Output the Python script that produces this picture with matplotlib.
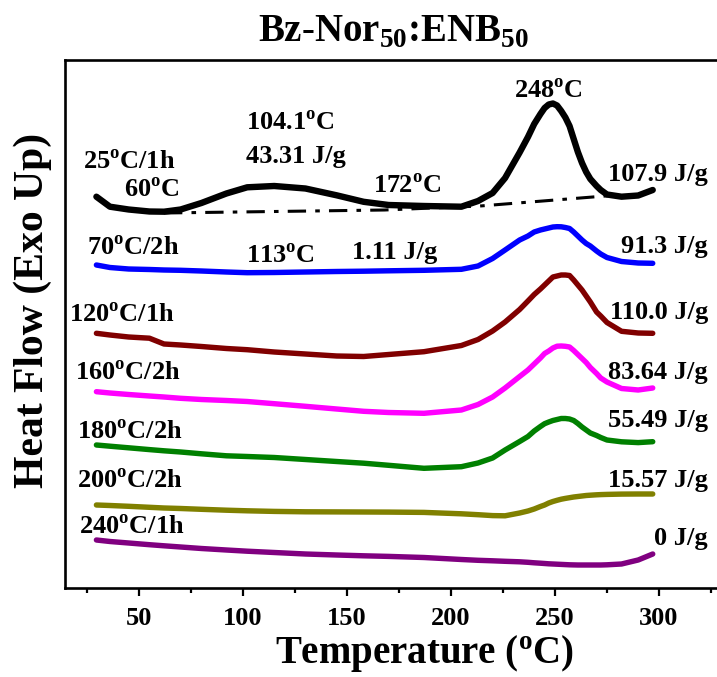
import numpy as np
import matplotlib
matplotlib.use('Agg')
import matplotlib.pyplot as plt
from matplotlib.ticker import MultipleLocator

plt.rcParams['font.family'] = 'Liberation Serif'
plt.rcParams['font.weight'] = 'bold'
plt.rcParams['mathtext.fontset'] = 'custom'
plt.rcParams['mathtext.rm'] = 'Liberation Serif:bold'
plt.rcParams['mathtext.bf'] = 'Liberation Serif:bold'

# temperature grid (deg C) shared by all DSC scans
temp = [29.5, 36, 45, 55, 62, 70, 80, 92, 102, 115, 130, 145, 158, 170, 187, 205,
        213, 220, 226, 233, 237, 240, 243, 245, 247, 249, 251, 253, 255, 257, 259,
        261, 263, 265, 267, 270, 272, 275, 282, 290, 297]

# heat flow, exo up (a.u., curves already stacked)
hf_25 = [391.3, 381.3, 378.5, 376.5, 376.3, 378.5, 385, 394.5, 400.7, 402, 399.5, 392.7,
         386.2, 383, 382, 381.3, 387, 395, 410, 435.5, 451, 464, 474, 480, 483.5, 484.5,
         482.5, 477, 470.5, 462, 449, 436, 425, 416, 409, 402, 398, 393.5, 391.3, 392.5, 398]
hf_70 = [323, 320.5, 319, 318.5, 318, 317.7, 317, 316, 315.3, 315.5, 316, 316.5,
         316.8, 317.2, 317.7, 318.7, 322, 329.5, 338, 348, 352, 356, 358, 359, 360, 361,
         361.3, 361.2, 360.5, 359.5, 356, 352, 348, 344.5, 342, 337, 334, 330.5, 326.5, 325, 324.7]
hf_120 = [254.7, 253, 251, 249.8, 244, 243, 241.5, 239.5, 238.3, 236, 234, 232,
          231.5, 233.5, 236.3, 242.5, 248.5, 257, 266, 278.5, 287, 293.5, 299, 303, 307, 311,
          312, 313, 313, 312.5, 308, 303, 298, 292, 286, 276, 272, 265.5, 256.7, 255, 254.7]
hf_160 = [196.3, 195, 193.5, 192, 191, 189.7, 188.5, 187.5, 186.5, 184.3, 181.7, 179,
          176.7, 175.5, 174.7, 178, 183.5, 191, 200, 211.5, 218, 224, 230, 234.5, 237, 240,
          241.8, 242, 241.7, 241, 237.5, 233.5, 229.5, 225.5, 220.5, 214.5, 210, 206, 199.5, 198, 200]
hf_180 = [143, 141.8, 140.2, 138.4, 137.2, 136, 134.2, 132.2, 131.5, 130.5, 128.5, 126.5,
          124.8, 122.7, 119.7, 121.3, 125, 130, 138, 146.5, 151.5, 157, 161.5, 164.3, 166, 167.5,
          168.5, 169.5, 169.5, 169, 167.5, 164.5, 161, 158, 155, 152.5, 150.5, 148, 146.2, 145.4, 146.3]
hf_200 = [83, 82.5, 81.7, 80.7, 80, 79.5, 78.7, 77.8, 77.2, 76.6, 76.2, 76.1,
          76, 75.9, 75.6, 74.2, 73.3, 72.4, 72.2, 75, 77, 79, 81.5, 83, 85, 86.5,
          87.7, 88.8, 89.6, 90.3, 91, 91.5, 92, 92.5, 92.8, 93.2, 93.4, 93.6, 93.9, 94, 94]
hf_240 = [48, 46.5, 45, 43.3, 42.2, 41, 39.5, 38, 36.8, 35.5, 34, 33,
          32.2, 31.6, 30.5, 28.5, 27.7, 27.2, 26.7, 26.2, 25.7, 25.2, 24.8, 24.5, 24.2, 24,
          23.8, 23.6, 23.4, 23.2, 23.1, 23, 23, 23, 23, 23, 23, 23.2, 24, 28, 34]

# sigmoidal baseline under the 25 C/1h scan
base_t = [62, 168, 214, 276]
base_hf = [375, 378, 382, 392.3]

colors = ['black', '#0000ff', '#800000', '#ff00ff', '#008000', '#808000', '#800080']
curves = [hf_25, hf_70, hf_120, hf_160, hf_180, hf_200, hf_240]

fig = plt.figure(figsize=(7.17, 6.77), dpi=100)
ax = fig.add_axes([65/717, 1-588/677, 652/717, 528/677])

for hf, c in zip(curves, colors):
    lw = 4.6 if c == 'black' else 3.9
    ax.plot(temp, hf, color=c, lw=lw, solid_capstyle='round', solid_joinstyle='round')

ax.plot(base_t, base_hf, color='black', lw=2.2, ls=(0, (6, 3, 1.5, 3)))

ax.set_xlim(14.4, 327.9)
ax.set_ylim(0, 528)

ax.xaxis.set_major_locator(MultipleLocator(50))
ax.xaxis.set_minor_locator(MultipleLocator(25))
ax.tick_params(axis='x', which='major', direction='out', length=6, width=1.6,
               labelsize=19, pad=8)
ax.tick_params(axis='x', which='minor', direction='out', length=3.5, width=1.6)
ax.set_yticks([])
for s in ['left', 'top', 'bottom']:
    ax.spines[s].set_linewidth(1.9)
ax.spines['right'].set_visible(False)

fig.text(425/717, 1-664/677, r'Temperature ($^{\rm o}$C)', fontsize=28,
         fontweight='bold', ha='center', va='baseline')
fig.text(33/717, 1-310/677, 'Heat Flow (Exo Up)', fontsize=30, fontweight='bold',
         ha='center', va='center', rotation=90)
fig.text(393/717, 1-42/677, r'Bz-Nor$_{\rm 50}$:ENB$_{\rm 50}$', fontsize=28,
         fontweight='bold', ha='center', va='baseline')

fs = 19
# scan labels on the left
left_labels = [(r'25$^{\rm o}$C/1h', 23.1, 426), (r'70$^{\rm o}$C/2h', 25, 340),
               (r'120$^{\rm o}$C/1h', 16.5, 273), (r'160$^{\rm o}$C/2h', 19.2, 215),
               (r'180$^{\rm o}$C/2h', 20.2, 156), (r'200$^{\rm o}$C/2h', 20.2, 107),
               (r'240$^{\rm o}$C/1h', 21.2, 61)]
for s, x, y in left_labels:
    ax.text(x, y, s, fontsize=fs, fontweight='bold', ha='left', va='center')

# enthalpies on the right
enthalpy = ['107.9', '91.3', '110.0', '83.64', '55.49', '15.57', '0']
enth_y = [414, 342, 275, 216, 168, 108, 50]
for e, y in zip(enthalpy, enth_y):
    ax.text(323.6, y, e + ' J/g', fontsize=fs, fontweight='bold', ha='right', va='center')

# peak annotations
ax.text(56.3, 398, r'60$^{\rm o}$C', fontsize=fs, fontweight='bold', ha='center', va='center')
ax.text(101.4, 465, r'104.1$^{\rm o}$C', fontsize=fs, fontweight='bold', ha='left', va='center')
ax.text(101.4, 432, '43.31 J/g', fontsize=fs, fontweight='bold', ha='left', va='center')
ax.text(178.8, 402, r'172$^{\rm o}$C', fontsize=fs, fontweight='bold', ha='center', va='center')
ax.text(247, 497, r'248$^{\rm o}$C', fontsize=fs, fontweight='bold', ha='center', va='center')
ax.text(118, 332, r'113$^{\rm o}$C', fontsize=fs, fontweight='bold', ha='center', va='center')
ax.text(173, 336, '1.11 J/g', fontsize=fs, fontweight='bold', ha='center', va='center')

fig.savefig('out.png', dpi=100)
